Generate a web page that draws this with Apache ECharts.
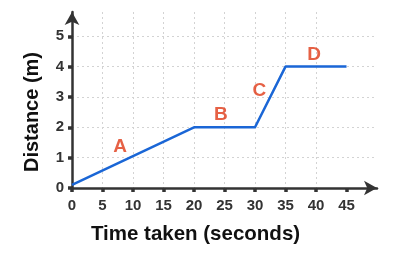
<!DOCTYPE html>
<html><head><meta charset="utf-8">
<script src="https://cdn.jsdelivr.net/npm/echarts@6/dist/echarts.min.js"></script>
<style>html,body{margin:0;padding:0;background:#fff}#c{width:397px;height:261px}</style>
</head><body><div id="c"></div>
<script>
const times = [0, 20, 30, 35, 45];
const distances = [0.1, 2, 2, 4, 4];
const xTicks = [0, 5, 10, 15, 20, 25, 30, 35, 40, 45];
const yTicks = [0, 1, 2, 3, 4, 5];
const segLabels = ['A', 'B', 'C', 'D'];
const segLabelX = [7.9, 24.4, 30.7, 39.7];
const segLabelY = [1.35, 2.4, 3.2, 4.4];

const chart = echarts.init(document.getElementById('c'));
const FF = 'Liberation Sans, Arial, sans-serif';
const axisText = {fontFamily: FF, fontWeight: 'bold', fontSize: 15, color: '#333'};
chart.setOption({
  animation: false,
  grid: {left: 72, top: 12, right: 20, bottom: 73},
  xAxis: {
    type: 'value', min: 0, max: 50, interval: 5,
    name: 'Time taken (seconds)', nameLocation: 'middle', nameGap: 36,
    nameTextStyle: {fontFamily: FF, fontWeight: 'bold', fontSize: 20.5, color: '#111', padding: [0, 58, 0, 0]},
    axisLine: {show: true, lineStyle: {color: '#333', width: 2.5}, symbol: ['none', 'arrow'], symbolSize: [11, 13]},
    axisTick: {show: true, length: 4, lineStyle: {color: '#333', width: 3.5}, customValues: xTicks},
    axisLabel: Object.assign({margin: 10, customValues: xTicks}, axisText),
    splitLine: {show: true, showMaxLine: false, lineStyle: {color: '#d3d3d3', type: [2, 3], width: 1}}
  },
  yAxis: {
    type: 'value', min: 0, max: 5.8, interval: 1,
    name: 'Distance (m)', nameLocation: 'middle', nameGap: 30,
    nameTextStyle: {fontFamily: FF, fontWeight: 'bold', fontSize: 20, color: '#111', padding: [0, 24, 0, 0]},
    axisLine: {show: true, lineStyle: {color: '#333', width: 2.5}, symbol: ['none', 'arrow'], symbolSize: [11, 13]},
    axisTick: {show: true, length: 4, lineStyle: {color: '#333', width: 3.5}, customValues: yTicks},
    axisLabel: Object.assign({margin: 8, customValues: yTicks}, axisText),
    splitLine: {show: true, showMaxLine: true, lineStyle: {color: '#d3d3d3', type: [2, 3], width: 1}}
  },
  series: [
    {type: 'line', data: times.map((t, i) => [t, distances[i]]), showSymbol: false,
     lineStyle: {color: '#1a66d6', width: 2.5}, z: 3},
    {type: 'scatter', symbolSize: 0,
     data: segLabels.map((s, i) => ({value: [segLabelX[i], segLabelY[i]], name: s})),
     label: {show: true, position: 'inside', formatter: p => p.name,
       fontFamily: FF, fontWeight: 'bold', fontSize: 19, color: '#e03a16'}}
  ]
});
</script></body></html>
